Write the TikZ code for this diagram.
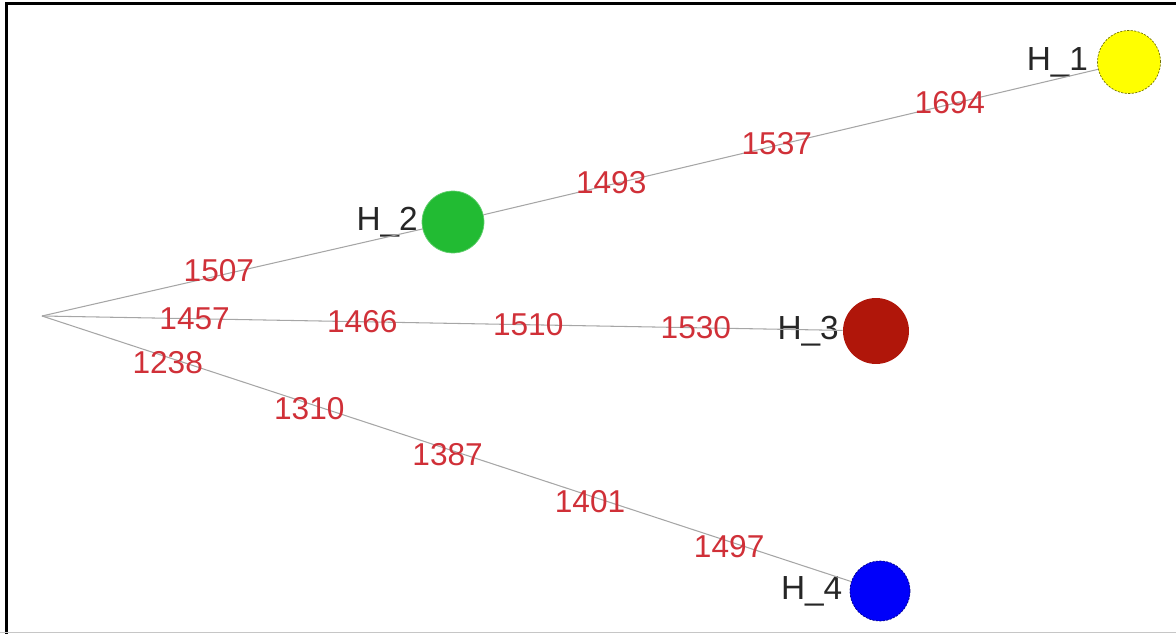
\documentclass[tikz,border=0pt]{standalone}
\usepackage{fontspec}
\setmainfont{Liberation Sans}
\usepackage{tikz}
\usetikzlibrary{arrows.meta,calc,positioning}
\definecolor{wtred}{RGB}{208,48,56}
\definecolor{hyellow}{RGB}{255,255,0}
\definecolor{hgreen}{RGB}{34,187,51}
\definecolor{hred}{RGB}{176,22,10}
\definecolor{hblue}{RGB}{0,0,250}

\begin{document}
\begin{tikzpicture}[x=0.02cm,y=-0.02cm,
  hap/.style={circle,inner sep=0pt},
  wt/.style={text=wtred,font=\fontsize{18}{21}\selectfont,inner sep=0pt},
  hlab/.style={text=black!85,font=\fontsize{19}{22}\selectfont,inner sep=0pt},
  edge/.style={draw=gray!70,line width=0.6pt}]
\useasboundingbox (0,0) rectangle (1176,634);
\draw[line width=1.6pt] (6.5,634)--(6.5,3.5)--(1176,3.5);
\draw[gray!45,line width=1pt] (0,632.5)--(1176,632.5);
\coordinate (root) at (42,316);
\node[hap,minimum size=1.24cm,fill=hgreen,draw=hgreen!70!white,
  label={[hlab,label distance=2pt]left:H\_2}] (h2) at (453,222) {};
\node[hap,minimum size=1.26cm,fill=hyellow,draw=hyellow!45!black,dashed,dash pattern=on 1.2pt off 0.8pt,
  label={[hlab,label distance=5pt]left:H\_1}] (h1) at (1129,62) {};
\node[hap,minimum size=1.32cm,fill=hred,
  label={[hlab,label distance=2pt]left:H\_3}] (h3) at (876,331) {};
\node[hap,minimum size=1.2cm,fill=hblue,draw=hblue!55!black,dashed,dash pattern=on 1.2pt off 0.8pt,
  label={[hlab,label distance=4pt]left:H\_4}] (h4) at (880,591) {};
\draw[edge] (root)--(h2);
\draw[edge] (h2)--(h1);
\draw[edge] (root)--(h3);
\draw[edge] (root)--(h4);
\path (root)--(h2) node[wt,pos=.465,yshift=3pt]{1507};
\foreach \p/\w in {.234/1493,.479/1537,.735/1694}{\path (h2.center)--(h1.center) node[wt,pos=\p,yshift=1pt]{\w};}
\foreach \p/\w in {.183/1457,.384/1466,.583/1510,.784/1530}{\path (root)--(h3.center) node[wt,pos=\p]{\w};}
\foreach \p/\w in {.150/1238,.319/1310,.484/1387,.654/1401,.82/1497}{\path (root)--(h4.center) node[wt,pos=\p,yshift=-3pt]{\w};}
\end{tikzpicture}
\end{document}
